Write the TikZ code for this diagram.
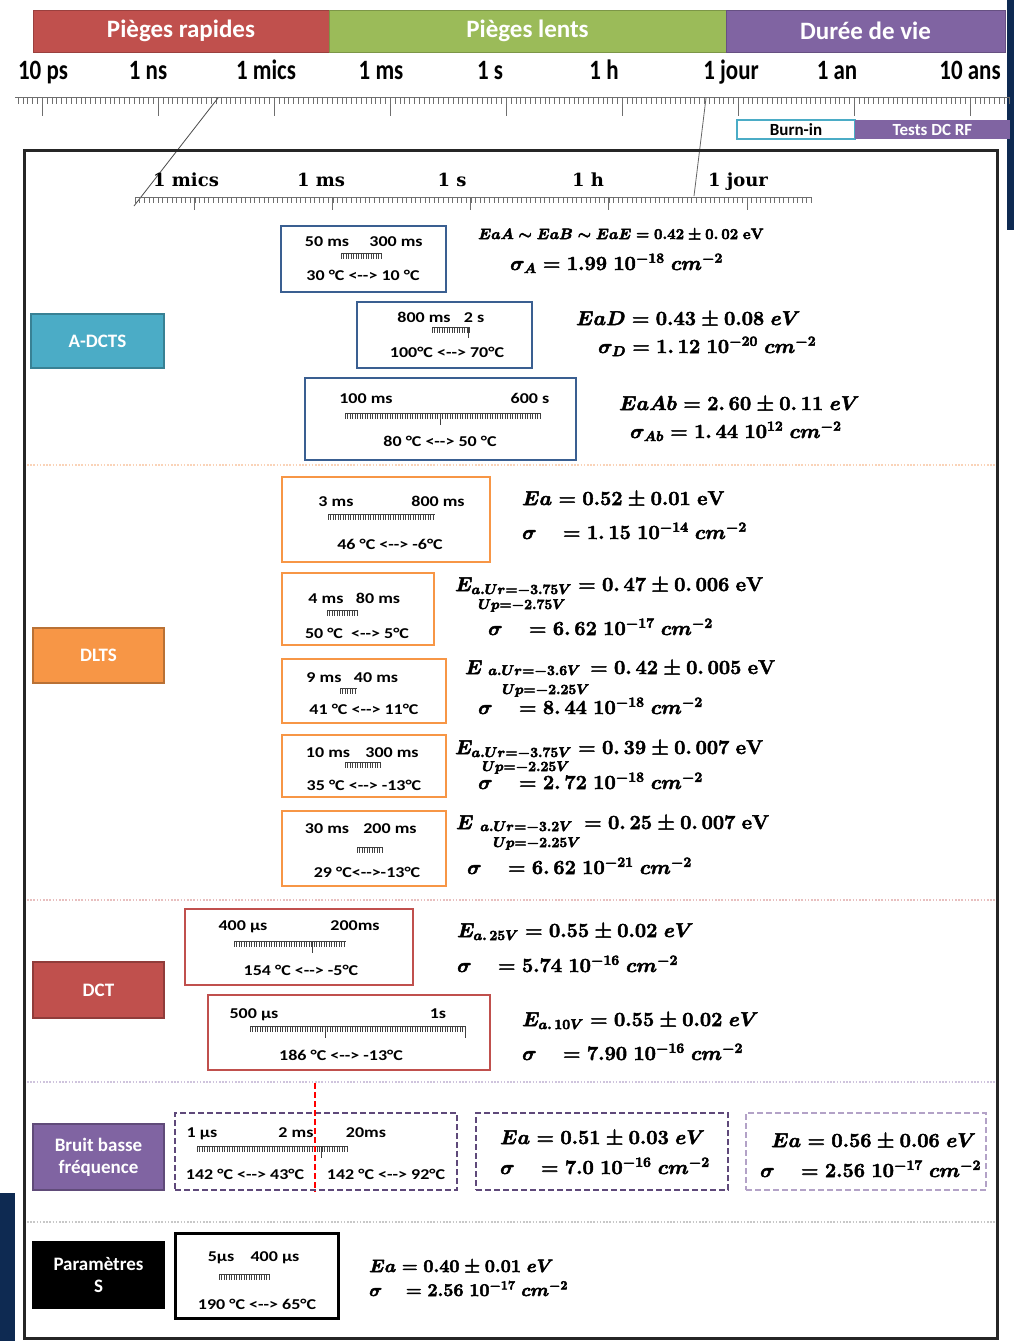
\RequirePackage{fix-cm}
\documentclass[tikz,border=0pt]{standalone}
\usepackage[no-math]{fontspec}
\setmainfont{Carlito}
\newfontfamily\inrfont{DejaVu Serif}
\newfontfamily\boxfont{Carlito}[FakeStretch=1.2]
\newfontfamily\tickfont{Carlito}[FakeStretch=0.82]
\definecolor{hred}{HTML}{C0504D}
\definecolor{hgreen}{HTML}{9BBB59}
\definecolor{hpurple}{HTML}{8064A2}
\definecolor{adcts}{HTML}{4BACC6}
\definecolor{dlts}{HTML}{F79646}
\definecolor{dct}{HTML}{C0504D}
\definecolor{bruit}{HTML}{8064A2}
\definecolor{bluebox}{HTML}{3A5F91}
\definecolor{bdark}{HTML}{5F497A}
\definecolor{blight}{HTML}{B3A2C7}
\definecolor{navy}{HTML}{0E2A52}
\definecolor{rulc}{HTML}{6E6E6E}
\definecolor{mrc}{HTML}{404040}
\definecolor{divor}{HTML}{FAD3B8}
\definecolor{divred}{HTML}{E8BFBF}
\definecolor{divpur}{HTML}{CFC4DD}
\definecolor{divgr}{HTML}{C8C8C8}
\newcommand{\mrule}[3]{%
  \draw[mrc, line width=0.8pt] (#1,#3) -- (#2,#3);
  \pgfmathsetmacro\mrA{#1}\pgfmathsetmacro\mrB{#1+2.5}%
  \foreach \tk in {\mrA,\mrB,...,#2} {\draw[mrc, line width=0.6pt] (\tk,#3) -- (\tk,#3+6);}
}
\begin{document}
\begin{tikzpicture}[x=1pt,y=-1pt,
 hdr/.style={fill=#1, draw=#1!80!black, line width=1pt, minimum height=42pt, inner sep=0pt, text=white, font=\fontsize{25}{28}\selectfont\bfseries},
 tlab/.style={font=\tickfont\fontsize{28}{30}\selectfont\bfseries, inner sep=0pt, anchor=base},
 ilab/.style={font=\inrfont\fontsize{18}{20}\selectfont\bfseries, inner sep=0pt, anchor=base},
 lab/.style={fill=#1, draw=#1!75!black, line width=1.5pt, text=white, font=\fontsize{19}{22}\selectfont\bfseries, align=center, inner sep=0pt},
 mbox/.style={draw=#1, line width=2.5pt, inner sep=0pt},
 btx/.style={font=\boxfont\fontsize{15}{17}\selectfont\bfseries, inner sep=0pt, anchor=base},
 eq/.style={font=\fontsize{#1}{#1}\selectfont\boldmath, inner sep=0pt, anchor=base west,
   execute at begin node={\special{pdf:literal direct 2 Tr 0.5 w}},
   execute at end node={\special{pdf:literal direct 0 Tr}}},
 divl/.style={draw=#1, line width=2pt, dash pattern=on 1.6pt off 1.6pt},
]
\fill[white] (0,0) rectangle (1014,1341);
\useasboundingbox (0,0) rectangle (1014,1341);
% slide background remnants
\fill[navy] (1007,0) rectangle (1014,230);
\fill[navy] (0,1193) rectangle (15,1341);
% header bars
\node[hdr=hred, minimum width=296pt] (h1) at (181,31) {Pièges rapides};
\node[hdr=hgreen, minimum width=397pt] (h2) at (527.5,31) {Pièges lents};
\node[hdr=hpurple, minimum width=279pt] (h3) at (865.5,31) {Durée de vie};
% top scale labels
\node[tlab] (t1) at (43,79) {10 ps};
\node[tlab] (t2) at (148,79) {1 ns};
\node[tlab] (t3) at (266,79) {1 mics};
\node[tlab] (t4) at (381,79) {1 ms};
\node[tlab] (t5) at (490,79) {1 s};
\node[tlab] (t6) at (604,79) {1 h};
\node[tlab] (t7) at (731,79) {1 jour};
\node[tlab] (t8) at (837,79) {1 an};
\node[tlab] (t9) at (970,79) {10 ans};
% top ruler
\draw[rulc, line width=0.8pt] (15,97) -- (1010,97);
\foreach \tk in {18,22.833,...,1010} {\draw[rulc, line width=0.55pt] (\tk,97) -- (\tk,104);}
\foreach \tk in {42,158,...,970} {\draw[rulc, line width=0.9pt] (\tk,97) -- (\tk,116);}
% burn-in / tests
\node[draw=adcts, line width=2pt, minimum width=118pt, minimum height=19pt, inner sep=0pt, font=\fontsize{17}{19}\selectfont\bfseries] (burn) at (796,129.5) {Burn-in};
\node[fill=hpurple, minimum width=155pt, minimum height=19pt, inner sep=0pt, text=white, font=\fontsize{17}{19}\selectfont\bfseries] (tests) at (932.5,129.5) {Tests DC RF};
% zoom lines
\coordinate (zA) at (218,98);
\coordinate (zB) at (134,206);
\coordinate (zC) at (706,98);
\coordinate (zD) at (694,196);
\draw[black!70, line width=0.8pt] (zA) -- (zB);
\draw[black!60, line width=0.8pt] (zC) -- (zD);
% main frame
\draw[black!85, line width=3pt] (24,150) rectangle (997,1338);
% inner scale
\node[ilab] (i1) at (186,186) {1 mics};
\node[ilab] (i2) at (321,186) {1 ms};
\node[ilab] (i3) at (452,186) {1 s};
\node[ilab] (i4) at (588,186) {1 h};
\node[ilab] (i5) at (738,186) {1 jour};
\draw[rulc, line width=0.8pt] (135,197) -- (812,197);
\foreach \tk in {135,139.6,...,812} {\draw[rulc, line width=0.5pt] (\tk,197) -- (\tk,203);}
\foreach \tk in {194,332.25,...,750} {\draw[rulc, line width=0.9pt] (\tk,197) -- (\tk,210);}
% dividers
\draw[divl=divor] (27,465) -- (995,465);
\draw[divl=divred] (27,900) -- (995,900);
\draw[divl=divpur] (27,1082) -- (995,1082);
\draw[divl=divgr] (27,1222) -- (995,1222);
% method labels
\node[lab=adcts, minimum width=133pt, minimum height=54pt] (lA) at (97.5,341) {A-DCTS};
\node[lab=dlts, minimum width=131pt, minimum height=55pt] (lD) at (98.5,655.5) {DLTS};
\node[lab=dct, minimum width=131pt, minimum height=56pt] (lC) at (98.5,990) {DCT};
\node[lab=bruit, minimum width=131pt, minimum height=66pt] (lB) at (98.5,1157) {Bruit basse\\fréquence};
\node[lab=black, minimum width=131pt, minimum height=66pt] (lP) at (98.5,1275) {Paramètres\\S};
% ===== A-DCTS =====
\node[mbox=bluebox, minimum width=165pt, minimum height=66pt] (A1) at (363.5,259) {};
\node[btx] (A1a) at (327,246) {50 ms};
\node[btx] (A1b) at (396,246) {300 ms};
\mrule{341}{381}{253}
\node[btx] (A1c) at (363,280) {30 °C <-{}-> 10 °C};
\node[eq=15] (A1e) at (478,239) {$EaA\sim EaB\sim EaE=0.42\pm0.\,02\;\mathrm{eV}$};
\node[eq=20] (A1f) at (510,270) {$\sigma_A=1.99\;10^{-18}\;cm^{-2}$};
\node[mbox=bluebox, minimum width=175pt, minimum height=66pt] (A2) at (444.5,335) {};
\node[btx] (A2a) at (424,322) {800 ms};
\node[btx] (A2b) at (474,322) {2 s};
\mrule{432}{470}{327}
\draw[mrc, line width=0.8pt] (468,327) -- (468,338);
\node[btx] (A2c) at (447,357) {100°C <-{}-> 70°C};
\node[eq=20] (A2e) at (576,325) {$EaD=0.43\pm0.08\;eV$};
\node[eq=20] (A2f) at (598,353) {$\sigma_D=1.\,12\;10^{-20}\;cm^{-2}$};
\node[mbox=bluebox, minimum width=271pt, minimum height=82pt] (A3) at (440.5,419) {};
\node[btx] (A3a) at (366,403) {100 ms};
\node[btx] (A3b) at (530,403) {600 s};
\mrule{345}{541}{413}
\draw[mrc, line width=0.8pt] (440,413) -- (440,425);
\node[btx] (A3c) at (440,446) {80 °C <-{}-> 50 °C};
\node[eq=20] (A3e) at (619,410) {$EaAb=2.\,60\pm0.\,11\;eV$};
\node[eq=20] (A3f) at (630,438) {$\sigma_{Ab}=1.\,44\;10^{12}\;cm^{-2}$};
% ===== DLTS =====
\node[mbox=dlts, minimum width=208pt, minimum height=85pt] (D1) at (386,519.5) {};
\node[btx] (D1a) at (336,506) {3 ms};
\node[btx] (D1b) at (438,506) {800 ms};
\mrule{328}{435}{514}
\node[btx] (D1c) at (390,549) {46 °C <-{}-> -6°C};
\node[eq=20] (D1e) at (522,505) {$Ea=0.52\pm0.01\;\mathrm{eV}$};
\node[eq=20] (D1f) at (522,539) {$\sigma\quad=1.\,15\;10^{-14}\;cm^{-2}$};
\node[mbox=dlts, minimum width=152pt, minimum height=72pt] (D2) at (358,609) {};
\node[btx] (D2a) at (326,603) {4 ms};
\node[btx] (D2b) at (378,603) {80 ms};
\mrule{327}{357}{610}
\node[btx] (D2c) at (357,638) {50 °C \ <-{}-> 5°C};
\node[eq=20] (D2e) at (455,591) {$E_{a.Ur=-3.75V}=0.\,47\pm0.\,006\;\mathrm{eV}$};
\node[eq=20] (D2g) at (478,609) {$\scriptstyle Up=-2.75V$};
\node[eq=20] (D2f) at (488,635) {$\sigma\quad=6.\,62\;10^{-17}\;cm^{-2}$};
\node[mbox=dlts, minimum width=164pt, minimum height=64pt] (D3) at (364,691) {};
\node[btx] (D3a) at (324,682) {9 ms};
\node[btx] (D3b) at (376,682) {40 ms};
\mrule{340}{357}{688}
\node[btx] (D3c) at (364,714) {41 °C <-{}-> 11°C};
\node[eq=20] (D3e) at (465,674) {$E$};
\node[eq=20] (D3s) at (488,675) {$\scriptstyle a.Ur=-3.6V$};
\node[eq=20] (D3r) at (590,674) {$=0.\,42\pm0.\,005\;\mathrm{eV}$};
\node[eq=20] (D3g) at (502,694) {$\scriptstyle Up=-2.25V$};
\node[eq=20] (D3f) at (478,714) {$\sigma\quad=8.\,44\;10^{-18}\;cm^{-2}$};
\node[mbox=dlts, minimum width=164pt, minimum height=62pt] (D4) at (364,766) {};
\node[btx] (D4a) at (328,757) {10 ms};
\node[btx] (D4b) at (392,757) {300 ms};
\mrule{345}{380}{762}
\node[btx] (D4c) at (364,790) {35 °C <-{}-> -13°C};
\node[eq=20] (D4e) at (455,754) {$E_{a.Ur=-3.75V}=0.\,39\pm0.\,007\;\mathrm{eV}$};
\node[eq=20] (D4g) at (482,771) {$\scriptstyle Up=-2.25V$};
\node[eq=20] (D4f) at (478,789) {$\sigma\quad=2.\,72\;10^{-18}\;cm^{-2}$};
\node[mbox=dlts, minimum width=164pt, minimum height=75pt] (D5) at (364,848.5) {};
\node[btx] (D5a) at (327,833) {30 ms};
\node[btx] (D5b) at (390,833) {200 ms};
\mrule{357}{382}{847}
\node[btx] (D5c) at (367,877) {29 °C<-{}->-13°C};
\node[eq=20] (D5e) at (456,829) {$E$};
\node[eq=20] (D5s) at (480,831) {$\scriptstyle a.Ur=-3.2V$};
\node[eq=20] (D5r) at (584,829) {$=0.\,25\pm0.\,007\;\mathrm{eV}$};
\node[eq=20] (D5g) at (493,847) {$\scriptstyle Up=-2.25V$};
\node[eq=20] (D5f) at (467,874) {$\sigma\quad=6.\,62\;10^{-21}\;cm^{-2}$};
% ===== DCT =====
\node[mbox=dct, minimum width=228pt, minimum height=76pt] (C1) at (299,947) {};
\node[btx] (C1a) at (243,930) {400 µs};
\node[btx] (C1b) at (355,930) {200ms};
\mrule{234}{346}{941}
\draw[mrc, line width=0.8pt] (312,941) -- (312,953);
\node[btx] (C1c) at (301,975) {154 °C <-{}-> -5°C};
\node[eq=20] (C1e) at (457,937) {$E_{a.\,25V}=0.55\pm0.02\;eV$};
\node[eq=20] (C1f) at (457,972) {$\sigma\quad=5.74\;10^{-16}\;cm^{-2}$};
\node[mbox=dct, minimum width=282pt, minimum height=75pt] (C2) at (349,1032.5) {};
\node[btx] (C2a) at (254,1018) {500 µs};
\node[btx] (C2b) at (438,1018) {1s};
\mrule{250}{465}{1026}
\draw[mrc, line width=0.8pt] (325,1026) -- (325,1038);
\draw[mrc, line width=0.8pt] (465,1026) -- (465,1038);
\node[btx] (C2c) at (341,1060) {186 °C <-{}-> -13°C};
\node[eq=20] (C2e) at (522,1026) {$E_{a.\,10V}=0.55\pm0.02\;eV$};
\node[eq=20] (C2f) at (522,1060) {$\sigma\quad=7.90\;10^{-16}\;cm^{-2}$};
% ===== Bruit basse frequence =====
\node[draw=bdark, line width=2.5pt, dash pattern=on 6pt off 3pt, minimum width=282pt, minimum height=77pt, inner sep=0pt] (B1) at (316,1151.5) {};
\node[btx] (B1a) at (202,1137) {1 µs};
\node[btx] (B1b) at (296,1137) {2 ms};
\node[btx] (B1c) at (366,1137) {20ms};
\mrule{197}{347}{1146}
\draw[mrc, line width=0.8pt] (321,1146) -- (321,1158);
\node[btx] (B1d) at (245,1179) {142 °C <-{}-> 43°C};
\node[btx] (B1e) at (386,1179) {142 °C <-{}-> 92°C};
\coordinate (rdA) at (315,1083);
\coordinate (rdB) at (315,1192);
\draw[red, line width=2pt, dash pattern=on 6pt off 3pt] (rdA) -- (rdB);
\node[draw=bdark, line width=2.5pt, dash pattern=on 6pt off 3pt, minimum width=252pt, minimum height=77pt, inner sep=0pt] (B2) at (602,1151.5) {};
\node[eq=20] (B2e) at (500,1144) {$Ea=0.51\pm0.03\;eV$};
\node[eq=20] (B2f) at (500,1174) {$\sigma\quad=7.0\;10^{-16}\;cm^{-2}$};
\node[draw=blight, line width=2pt, dash pattern=on 6pt off 3pt, minimum width=240pt, minimum height=77pt, inner sep=0pt] (B3) at (866,1151.5) {};
\node[eq=20] (B3e) at (771,1147) {$Ea=0.56\pm0.06\;eV$};
\node[eq=20] (B3f) at (760,1177) {$\sigma\quad=2.56\;10^{-17}\;cm^{-2}$};
% ===== Parametres S =====
\node[draw=black, line width=3pt, minimum width=163pt, minimum height=85pt, inner sep=0pt] (P1) at (256.5,1275.5) {};
\node[btx] (P1a) at (221,1261) {5µs};
\node[btx] (P1b) at (275,1261) {400 µs};
\mrule{219}{270}{1274}
\node[btx] (P1c) at (257,1309) {190 °C <-{}-> 65°C};
\node[eq=18] (P1e) at (369,1272) {$Ea=0.40\pm0.01\;eV$};
\node[eq=18] (P1f) at (369,1296) {$\sigma\quad=2.56\;10^{-17}\;cm^{-2}$};
\end{tikzpicture}
\end{document}
